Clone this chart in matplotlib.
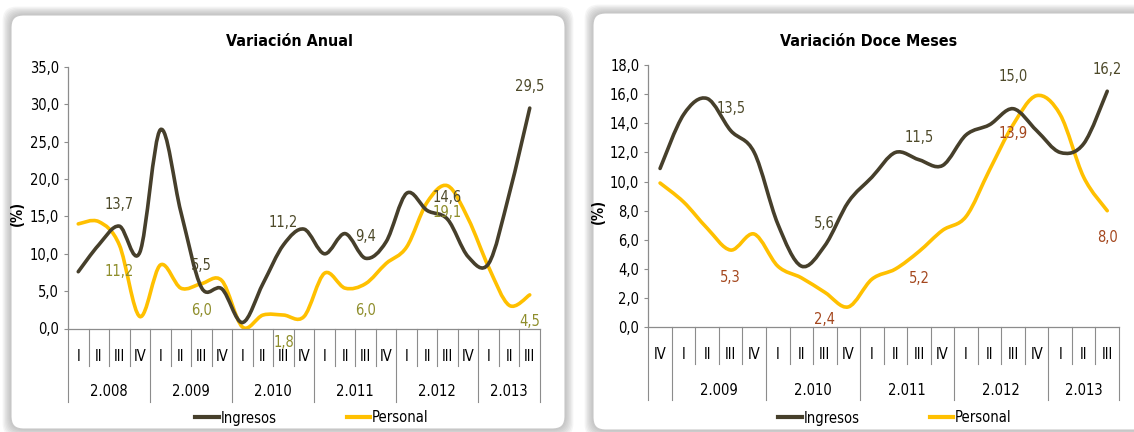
import numpy as np
import matplotlib.pyplot as plt
from matplotlib.path import Path
from matplotlib.patches import PathPatch, FancyBboxPatch
from matplotlib.lines import Line2D
from matplotlib.transforms import blended_transform_factory

plt.rcParams['font.family'] = ['DejaVu Sans']
plt.rcParams['font.stretch'] = 'condensed'

# --- Variación Anual ---
anual_quarters = ['I', 'II', 'III', 'IV'] * 5 + ['I', 'II', 'III']
anual_years = ['2.008', '2.009', '2.010', '2.011', '2.012', '2.013']
anual_year_sizes = [4, 4, 4, 4, 4, 3]
anual_ingresos = [7.6, 11.2, 13.7, 10.2, 26.6, 15.6, 5.5, 5.3, 0.8, 6.0, 11.2, 13.3,
                  10.0, 12.7, 9.4, 11.6, 18.1, 15.8, 14.6, 9.6, 8.7, 18.0, 29.5]
anual_personal = [14.0, 14.3, 11.2, 1.6, 8.5, 5.4, 6.0, 6.4, 0.2, 1.8, 1.8, 1.6,
                  7.4, 5.4, 6.0, 8.7, 10.9, 16.9, 19.1, 14.7, 8.2, 3.1, 4.5]
anual_labeled = [2, 6, 10, 14, 18, 22]

# --- Variación Doce Meses ---
doce_quarters = ['IV'] + ['I', 'II', 'III', 'IV'] * 4 + ['I', 'II', 'III']
doce_years = ['', '2.009', '2.010', '2.011', '2.012', '2.013']
doce_year_sizes = [1, 4, 4, 4, 4, 3]
doce_ingresos = [10.9, 14.6, 15.7, 13.5, 12.0, 7.1, 4.2, 5.6, 8.6, 10.3, 12.0, 11.5,
                 11.1, 13.2, 13.9, 15.0, 13.5, 12.0, 12.6, 16.2]
doce_personal = [9.9, 8.6, 6.8, 5.3, 6.4, 4.2, 3.4, 2.4, 1.4, 3.3, 4.0, 5.2,
                 6.65, 7.6, 10.8, 13.9, 15.9, 14.6, 10.3, 8.0]
doce_labeled = [3, 7, 11, 15, 19]

C_ING = '#463F2B'
C_PER = '#FFC000'
C_AX = '#8C8C8C'
FS = 10.5


def smooth_path(ys):
    # Excel-style smoothed line (Catmull-Rom as cubic Bezier)
    pts = np.column_stack([np.arange(len(ys)), ys]).astype(float)
    n = len(pts)
    verts = [pts[0]]
    codes = [Path.MOVETO]
    for i in range(n - 1):
        p0 = pts[max(i - 1, 0)]
        p1 = pts[i]
        p2 = pts[i + 1]
        p3 = pts[min(i + 2, n - 1)]
        verts += [p1 + (p2 - p0) / 6, p2 - (p3 - p1) / 6, p2]
        codes += [Path.CURVE4] * 3
    return Path(verts, codes)


def fmt(v):
    return f"{v:.1f}".replace('.', ',')


def draw_chart(ax, quarters, years, sizes, ing, per, labeled, ymax, ystep,
               per_label_color, off_ing, off_per):
    n = len(quarters)
    ax.set_facecolor('none')
    ax.add_patch(PathPatch(smooth_path(ing), fill=False, edgecolor=C_ING, lw=2.6,
                           capstyle='round', joinstyle='round', zorder=3))
    ax.add_patch(PathPatch(smooth_path(per), fill=False, edgecolor=C_PER, lw=2.6,
                           capstyle='round', joinstyle='round', zorder=2))
    ax.set_xlim(-0.5, n - 0.5)
    ax.set_ylim(0, ymax)
    ax.set_yticks(np.arange(0, ymax + 0.01, ystep))
    ax.set_yticklabels([fmt(v) for v in np.arange(0, ymax + 0.01, ystep)], fontsize=FS)
    ax.set_xticks(range(n))
    ax.set_xticklabels(quarters, fontsize=FS)
    ax.tick_params(axis='x', length=0, pad=14.5)
    ax.tick_params(axis='y', length=3, width=0.8, color=C_AX, pad=3.5)
    for s in ['top', 'right']:
        ax.spines[s].set_visible(False)
    for s in ['left', 'bottom']:
        ax.spines[s].set_color(C_AX)
        ax.spines[s].set_linewidth(0.9)

    tr = blended_transform_factory(ax.transData, ax.transAxes)
    h_px = ax.get_position().height * ax.figure.bbox.height
    q_len = 37 / h_px
    y_len = 73 / h_px
    bounds = np.concatenate([[0], np.cumsum(sizes)])
    for k in range(n + 1):
        ln = y_len if k in bounds else q_len
        ax.plot([k - 0.5, k - 0.5], [0, -ln], color=C_AX, lw=0.8,
                transform=tr, clip_on=False)
    for yr, a, b in zip(years, bounds[:-1], bounds[1:]):
        ax.annotate(yr, xy=((a + b - 1) / 2, 0), xycoords=tr, xytext=(0, -63),
                    textcoords='offset pixels', ha='center', va='center', fontsize=FS)

    for i in labeled:
        oi = off_ing.get(i, 22)
        op = off_per.get(i, -27)
        ax.annotate(fmt(ing[i]), xy=(i, ing[i]), xytext=(0, oi), textcoords='offset pixels',
                    ha='center', va='center', fontsize=FS, color='#4E4A2A', zorder=5)
        ax.annotate(fmt(per[i]), xy=(i, per[i]), xytext=(0, op), textcoords='offset pixels',
                    ha='center', va='center', fontsize=FS, color=per_label_color, zorder=5)

    ax.set_ylabel('(%)', fontsize=FS, fontweight='bold')
    handles = [Line2D([], [], color=C_ING, lw=3), Line2D([], [], color=C_PER, lw=3)]
    return handles


fig = plt.figure(figsize=(11.34, 4.32), dpi=100)
fig.patch.set_facecolor('white')

# rounded panels with soft shadow (coordinates in inches)
for x0, y0, w, h in [(0.11, 0.03, 5.54, 4.14), (5.93, 0.02, 5.6, 4.17)]:
    for k in range(7, 0, -1):
        pad = k * 0.012
        fig.patches.append(FancyBboxPatch((x0 - pad, y0 - pad), w + 2 * pad, h + 2 * pad,
                                          boxstyle='round,pad=0,rounding_size=0.14',
                                          transform=fig.dpi_scale_trans, facecolor='#7a7a7a',
                                          edgecolor='none', alpha=0.07, zorder=-20))
    fig.patches.append(FancyBboxPatch((x0, y0), w, h,
                                      boxstyle='round,pad=0,rounding_size=0.12',
                                      transform=fig.dpi_scale_trans, facecolor='white',
                                      edgecolor='#C8C8C8', lw=0.8, zorder=-10))

W, H = 1134, 432
ax1 = fig.add_axes([68 / W, (H - 328.5) / H, 472 / W, 261.5 / H])
ax2 = fig.add_axes([648.3 / W, (H - 327.3) / H, 470.7 / W, 262.3 / H])

h1 = draw_chart(ax1, anual_quarters, anual_years, anual_year_sizes, anual_ingresos,
                anual_personal, anual_labeled, 35, 5, '#8F8E2C', {}, {})
h2 = draw_chart(ax2, doce_quarters, doce_years, doce_year_sizes, doce_ingresos,
                doce_personal, doce_labeled, 18, 2, '#A4471E', {15: 32}, {15: -9})

ax1.yaxis.set_label_coords(-0.091, 0.44)
ax2.yaxis.set_label_coords(-0.09, 0.44)

fig.text(290 / W, 1 - 42 / H, 'Variación Anual', ha='center', va='center',
         fontsize=11.5, fontweight='bold')
fig.text(869 / W, 1 - 42 / H, 'Variación Doce Meses', ha='center', va='center',
         fontsize=11.5, fontweight='bold')

for ax, h, cx in [(ax1, h1, 312), (ax2, h2, 895)]:
    ax.legend(h, ['Ingresos', 'Personal'], loc='center', ncol=2, frameon=False,
              bbox_to_anchor=(cx / W, 1 - 418 / H), bbox_transform=fig.transFigure,
              fontsize=FS, handlelength=1.6, handletextpad=0.15, columnspacing=4.8)

fig.savefig('out.png', dpi=100, facecolor='white')
